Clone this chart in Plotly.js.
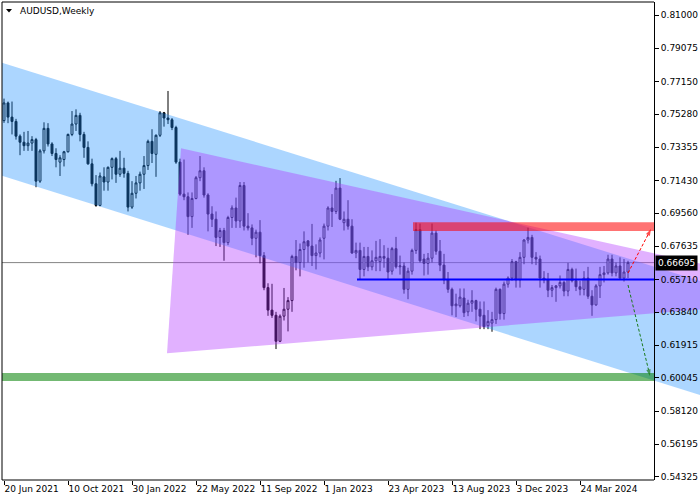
<!DOCTYPE html>
<html><head><meta charset="utf-8">
<script src="https://cdn.plot.ly/plotly-3.0.1.min.js"></script>
<style>html,body{margin:0;padding:0;background:#fff}#chart{width:700px;height:500px}</style>
</head><body><div id="chart"></div>
<script>
// ---- data (weekly AUDUSD candles, first bar = week of 20 Jun 2021) ----
const openP = [
0.7490,0.7592,0.7510,0.7485,0.7400,0.7365,0.7345,0.7360,0.7380,0.7140,
0.7315,0.7445,0.7355,0.7300,0.7250,0.7265,0.7310,0.7410,0.7470,0.7520,
0.7410,0.7335,0.7240,0.7125,0.7000,0.7165,0.7135,0.7220,0.7270,0.7180,
0.7215,0.7185,0.6990,0.7070,0.7130,0.7180,0.7230,0.7370,0.7295,0.7405,
0.7535,0.7505,0.7495,0.7450,0.7250,0.7065,0.7050,0.6935,0.7040,0.7160,
0.7200,0.7060,0.6950,0.6920,0.6815,0.6855,0.6785,0.6930,0.6985,0.6910,
0.7115,0.6880,0.6870,0.6810,0.6845,0.6710,0.6525,0.6395,0.6365,0.6215,
0.6360,0.6400,0.6450,0.6705,0.6670,0.6745,0.6795,0.6765,0.6710,0.6725,
0.6810,0.6880,0.6985,0.6965,0.7100,0.6900,0.6920,0.6880,0.6725,0.6740,
0.6630,0.6705,0.6645,0.6680,0.6675,0.6705,0.6695,0.6620,0.6750,0.6645,
0.6650,0.6515,0.6620,0.6740,0.6860,0.6690,0.6665,0.6695,0.6840,0.6735,
0.6655,0.6570,0.6515,0.6420,0.6420,0.6465,0.6385,0.6435,0.6450,0.6400,
0.6365,0.6305,0.6320,0.6340,0.6515,0.6375,0.6545,0.6580,0.6675,0.6570,
0.6700,0.6800,0.6815,0.6700,0.6690,0.6580,0.6570,0.6510,0.6525,0.6535,
0.6555,0.6505,0.6630,0.6565,0.6530,0.6515,0.6580,0.6475,0.6425,0.6535,
0.6600,0.6610,0.6690,0.6610,0.6650,0.6580,0.6615];
const highP = [
0.7617,0.7600,0.7600,0.7500,0.7410,0.7425,0.7430,0.7400,0.7390,0.7325,
0.7480,0.7475,0.7365,0.7330,0.7290,0.7315,0.7415,0.7545,0.7555,0.7535,
0.7425,0.7370,0.7270,0.7175,0.7190,0.7220,0.7225,0.7277,0.7280,0.7315,
0.7275,0.7200,0.7140,0.7170,0.7195,0.7285,0.7380,0.7440,0.7410,0.7545,
0.7540,0.7661,0.7505,0.7460,0.7270,0.7265,0.7075,0.7075,0.7170,0.7285,
0.7220,0.7070,0.6995,0.6965,0.6870,0.6870,0.6940,0.7000,0.7045,0.7135,
0.7135,0.6955,0.6890,0.6860,0.6915,0.6730,0.6550,0.6547,0.6385,0.6370,
0.6523,0.6470,0.6715,0.6800,0.6780,0.6850,0.6800,0.6893,0.6775,0.6815,
0.6895,0.6995,0.7065,0.7142,0.7158,0.6965,0.7030,0.6920,0.6785,0.6785,
0.6760,0.6760,0.6740,0.6795,0.6805,0.6770,0.6755,0.6760,0.6818,0.6710,
0.6670,0.6640,0.6750,0.6900,0.6895,0.6720,0.6725,0.6895,0.6855,0.6800,
0.6720,0.6615,0.6525,0.6490,0.6520,0.6520,0.6455,0.6510,0.6455,0.6445,
0.6445,0.6395,0.6385,0.6525,0.6520,0.6560,0.6590,0.6690,0.6680,0.6730,
0.6805,0.6871,0.6830,0.6730,0.6710,0.6620,0.6610,0.6540,0.6540,0.6595,
0.6565,0.6668,0.6640,0.6635,0.6565,0.6620,0.6645,0.6510,0.6545,0.6645,
0.6650,0.6715,0.6715,0.6670,0.6700,0.6690,0.6680];
const lowP = [
0.7477,0.7475,0.7410,0.7380,0.7290,0.7315,0.7315,0.7315,0.7105,0.7130,
0.7300,0.7340,0.7285,0.7220,0.7170,0.7225,0.7305,0.7400,0.7430,0.7370,
0.7275,0.7235,0.7110,0.6992,0.6995,0.7085,0.7085,0.7150,0.7130,0.7165,
0.7160,0.6965,0.6980,0.7040,0.7085,0.7095,0.7205,0.7245,0.7165,0.7395,
0.7455,0.7470,0.7435,0.7240,0.7055,0.7030,0.6830,0.6870,0.7035,0.7140,
0.7045,0.6850,0.6875,0.6765,0.6760,0.6680,0.6770,0.6870,0.6870,0.6870,
0.6855,0.6855,0.6770,0.6700,0.6665,0.6510,0.6362,0.6350,0.6170,0.6210,
0.6335,0.6272,0.6385,0.6625,0.6590,0.6640,0.6670,0.6650,0.6630,0.6700,
0.6688,0.6855,0.6875,0.6950,0.6915,0.6855,0.6860,0.6720,0.6695,0.6570,
0.6590,0.6620,0.6625,0.6620,0.6620,0.6640,0.6575,0.6600,0.6635,0.6600,
0.6490,0.6458,0.6600,0.6720,0.6670,0.6595,0.6600,0.6670,0.6715,0.6620,
0.6545,0.6495,0.6365,0.6355,0.6410,0.6355,0.6360,0.6385,0.6330,0.6285,
0.6285,0.6285,0.6270,0.6315,0.6340,0.6340,0.6525,0.6565,0.6525,0.6525,
0.6660,0.6780,0.6660,0.6655,0.6525,0.6550,0.6470,0.6470,0.6443,0.6520,
0.6475,0.6475,0.6555,0.6505,0.6480,0.6480,0.6460,0.6362,0.6420,0.6465,
0.6555,0.6600,0.6590,0.6590,0.6570,0.6560,0.6580];
const closeP = [
0.7592,0.7510,0.7485,0.7400,0.7365,0.7345,0.7360,0.7380,0.7140,0.7315,
0.7445,0.7355,0.7300,0.7265,0.7275,0.7310,0.7410,0.7470,0.7520,0.7410,
0.7335,0.7240,0.7125,0.7000,0.7170,0.7135,0.7220,0.7270,0.7180,0.7215,
0.7185,0.6990,0.7070,0.7130,0.7180,0.7230,0.7370,0.7300,0.7405,0.7535,
0.7505,0.7495,0.7450,0.7250,0.7065,0.7050,0.6935,0.7040,0.7160,0.7200,
0.7060,0.6950,0.6920,0.6815,0.6855,0.6785,0.6930,0.6985,0.6910,0.7115,
0.6880,0.6870,0.6810,0.6845,0.6710,0.6525,0.6395,0.6365,0.6215,0.6360,
0.6400,0.6450,0.6705,0.6670,0.6745,0.6790,0.6765,0.6710,0.6725,0.6800,
0.6880,0.6985,0.6965,0.7100,0.6920,0.6920,0.6880,0.6725,0.6740,0.6630,
0.6705,0.6645,0.6680,0.6700,0.6705,0.6695,0.6615,0.6750,0.6645,0.6650,
0.6515,0.6620,0.6740,0.6860,0.6680,0.6665,0.6695,0.6840,0.6735,0.6655,
0.6570,0.6515,0.6420,0.6430,0.6470,0.6380,0.6435,0.6450,0.6400,0.6360,
0.6300,0.6330,0.6340,0.6515,0.6375,0.6545,0.6580,0.6675,0.6570,0.6700,
0.6800,0.6815,0.6700,0.6690,0.6580,0.6570,0.6510,0.6525,0.6535,0.6555,
0.6505,0.6630,0.6565,0.6530,0.6515,0.6580,0.6475,0.6425,0.6535,0.6600,
0.6610,0.6690,0.6610,0.6650,0.6580,0.6615,0.66695];

const tickDates  = ['2021-06-20','2021-10-10','2022-01-30','2022-05-22','2022-09-11','2023-01-01','2023-04-23','2023-08-13','2023-12-03','2024-03-24'];
const tickLabels = ['20 Jun 2021','10 Oct 2021','30 Jan 2022','22 May 2022','11 Sep 2022','1 Jan 2023','23 Apr 2023','13 Aug 2023','3 Dec 2023','24 Mar 2024'];
const priceTicks = [0.81000,0.79075,0.77150,0.75280,0.73355,0.71430,0.69560,0.67635,0.65710,0.63840,0.61915,0.60045,0.58120,0.56195,0.54325];
const bidPrice = 0.66695;

// drawing objects: [week index from first bar, price]
const channelTop    = [[-2, 0.78357], [176, 0.65487]];
const channelBottom = [[-2, 0.71828], [176, 0.58901]];
const triangle      = [[44.25, 0.73299], [40.75, 0.61455], [211.9, 0.64696]];
const resistZone    = {from: 102.25, to: 162.5, lo: 0.6852, hi: 0.6903};
const supportZone   = {lo: 0.5985, hi: 0.6032};
const blueLevel     = {from: 88.25, to: 162.5, price: 0.6572};
const upArrow       = [[156, 0.66094], [161.75, 0.68636]];
const downArrow     = [[156, 0.65401], [161.5, 0.60143]];

// ---- helpers ----
const T0 = Date.UTC(2021, 5, 20);
function wk(n) { return new Date(T0 + n * 7 * 86400000).toISOString().slice(0, 19).replace('T', ' '); }
const dates = openP.map((_, i) => wk(i));
const FR = 652 / 698;   // right frame (price axis) position in paper units
const FONT = 'DejaVu Sans';

const traces = [
  {type: 'candlestick', x: dates, open: openP, high: highP, low: lowP, close: closeP,
   increasing: {line: {color: '#000', width: 1}, fillcolor: '#ffffff'},
   decreasing: {line: {color: '#000', width: 1}, fillcolor: '#000'},
   whiskerwidth: 0, hoverinfo: 'skip', showlegend: false},
  {type: 'scatter', mode: 'lines', hoverinfo: 'skip', showlegend: false,
   x: [wk(channelTop[0][0]), wk(channelTop[1][0]), wk(channelBottom[1][0]), wk(channelBottom[0][0])],
   y: [channelTop[0][1], channelTop[1][1], channelBottom[1][1], channelBottom[0][1]],
   fill: 'toself', fillcolor: 'rgba(30,144,255,0.37)', line: {width: 0, color: 'rgba(0,0,0,0)'}},
  {type: 'scatter', mode: 'lines', hoverinfo: 'skip', showlegend: false,
   x: triangle.map(p => wk(p[0])), y: triangle.map(p => p[1]),
   fill: 'toself', fillcolor: 'rgba(175,50,255,0.38)', line: {width: 0, color: 'rgba(0,0,0,0)'}},
  {type: 'scatter', mode: 'lines+markers', hoverinfo: 'skip', showlegend: false,
   x: upArrow.map(p => wk(p[0])), y: upArrow.map(p => p[1]),
   line: {color: '#ff0000', width: 1, dash: '3px,2px'},
   marker: {symbol: 'arrow', size: [0, 7], color: '#ff0000', angleref: 'previous', line: {width: 0}}},
  {type: 'scatter', mode: 'lines+markers', hoverinfo: 'skip', showlegend: false,
   x: downArrow.map(p => wk(p[0])), y: downArrow.map(p => p[1]),
   line: {color: '#1a7a1a', width: 1, dash: '3px,2px'},
   marker: {symbol: 'arrow', size: [0, 7], color: '#1a7a1a', angleref: 'previous', line: {width: 0}}}
];

const shapes = [
  {type: 'line', layer: 'below', xref: 'paper', x0: 0, x1: FR, yref: 'y', y0: bidPrice, y1: bidPrice,
   line: {color: 'rgba(120,120,120,0.9)', width: 1}},
  {type: 'rect', xref: 'x', x0: wk(resistZone.from), x1: wk(resistZone.to), yref: 'y', y0: resistZone.lo, y1: resistZone.hi,
   fillcolor: 'rgba(255,0,0,0.55)', line: {width: 0}},
  {type: 'rect', xref: 'paper', x0: 0, x1: FR, yref: 'y', y0: supportZone.lo, y1: supportZone.hi,
   fillcolor: 'rgba(0,128,0,0.55)', line: {width: 0}},
  {type: 'line', xref: 'x', x0: wk(blueLevel.from), x1: wk(blueLevel.to), yref: 'y', y0: blueLevel.price, y1: blueLevel.price,
   line: {color: '#0000ff', width: 2}},
  // frame
  {type: 'line', xref: 'paper', yref: 'paper', x0: 0, x1: 0, y0: 0, y1: 1, line: {color: '#000', width: 1}},
  {type: 'line', xref: 'paper', yref: 'paper', x0: 0, x1: FR, y0: 1, y1: 1, line: {color: '#000', width: 1}},
  {type: 'line', xref: 'paper', yref: 'paper', x0: 0, x1: FR, y0: 0, y1: 0, line: {color: '#000', width: 1}},
  // title marker
  {type: 'path', xref: 'paper', yref: 'paper', path: 'M 0.00573 0.98536 L 0.014327 0.98536 L 0.010029 0.97803 Z',
   fillcolor: '#000', line: {width: 0}}
];

const annotations = [
  {xref: 'paper', yref: 'paper', x: 0.0235, y: 0.9822, xanchor: 'left', yanchor: 'middle', showarrow: false,
   text: 'AUDUSD,Weekly', font: {family: FONT, size: 9, color: '#000'}},
  {xref: 'paper', yref: 'y', x: 0.9355, y: bidPrice, xanchor: 'left', yanchor: 'middle', showarrow: false,
   text: bidPrice.toFixed(5), bgcolor: '#000', borderpad: 2, font: {family: FONT, size: 9, color: '#fff'}}
];

const layout = {
  width: 700, height: 500, margin: {l: 2, r: 0, t: 2, b: 20},
  paper_bgcolor: '#fff', plot_bgcolor: '#fff', showlegend: false, hovermode: false, dragmode: false,
  xaxis: {type: 'date', range: [wk(-0.5), wk(174)], rangeslider: {visible: false},
    tickvals: tickDates, ticktext: tickLabels, tickmode: 'array', tickangle: 0, automargin: false,
    ticks: 'outside', ticklen: 4, tickcolor: '#000', tickwidth: 1,
    showgrid: false, zeroline: false, showline: false, ticklabelposition: 'outside right',
    tickfont: {family: FONT, size: 9, color: '#000'}, fixedrange: true},
  yaxis: {range: [0.541346, 0.817511], side: 'right', anchor: 'free', position: FR, automargin: false,
    tickmode: 'array', tickvals: priceTicks, ticktext: priceTicks.map(v => v.toFixed(5)),
    ticks: 'outside', ticklen: 4, tickcolor: '#000', tickwidth: 1,
    showline: true, linecolor: '#000', linewidth: 1, showgrid: false, zeroline: false,
    tickfont: {family: FONT, size: 9, color: '#000'}, fixedrange: true},
  shapes: shapes, annotations: annotations
};

Plotly.newPlot('chart', traces, layout, {displayModeBar: false, staticPlot: true});
</script>
</body></html>
